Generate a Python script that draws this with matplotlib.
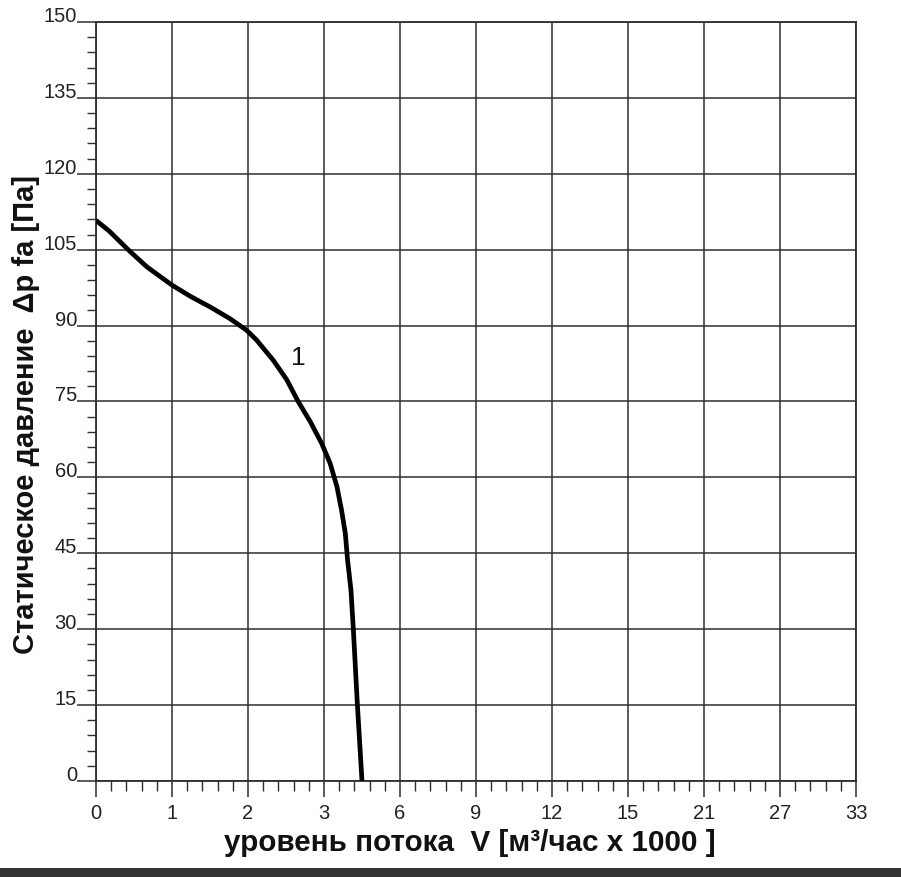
import numpy as np
import matplotlib
matplotlib.use("Agg")
import matplotlib.pyplot as plt
from matplotlib.patches import Rectangle

# ---- data ----
x_tick_values = [0, 1, 2, 3, 6, 9, 12, 15, 21, 27, 33]
x_tick_labels = ["0", "1", "2", "3", "6", "9", "12", "15", "21", "27", "33"]
y_ticks = [0, 15, 30, 45, 60, 75, 90, 105, 120, 135, 150]

# curve 1: flow (m3/h x 1000) vs static pressure (Pa)
flow = [0.0, 0.18, 0.43, 0.67, 1.0, 1.24, 1.50, 1.76, 1.98, 2.11,
        2.33, 2.51, 2.66, 2.82, 2.97, 3.24, 3.51, 3.69, 3.84, 3.93,
        4.065, 4.16, 4.32, 4.50]
pressure = [110.8, 108.6, 104.9, 101.6, 98.0, 95.8, 93.7, 91.4, 89.1, 87.2,
            83.2, 79.3, 75.0, 71.0, 66.7, 62.8, 58.2, 53.6, 49.0, 43.7,
            37.7, 29.8, 14.9, 0.0]
curve_label = "1"

xlabel = "уровень потока  V [м³/час x 1000 ]"
ylabel = "Статическое давление  Δp fa [Па]"

# ---- figure ----
W, H = 901, 877
PX = 72 / 100  # points per pixel
fig = plt.figure(figsize=(W / 100, H / 100), dpi=100)
plt.rcParams['font.family'] = ['Liberation Sans', 'DejaVu Sans']

ax = fig.add_axes([96 / W, 1 - 781 / H, (856 - 96) / W, (781 - 22) / H])

positions = np.arange(len(x_tick_values), dtype=float)
tv = np.array(x_tick_values, dtype=float)

def fwd(v):
    return np.interp(v, tv, positions)

def inv(p):
    return np.interp(p, positions, tv)

ax.set_xscale('function', functions=(fwd, inv))
ax.set_xlim(0, 33)
ax.set_ylim(0, 150)

ax.plot(flow, pressure, color='black', lw=3.4, solid_joinstyle='round',
        solid_capstyle='butt', zorder=3)
ax.text(2.66, 83.5, curve_label, fontsize=19, color='#111111', ha='center', va='center')

gc = '#2e2e2e'
ax.set_xticks(x_tick_values)
ax.set_xticklabels(x_tick_labels)
minor_pos = [p + k / 5 for p in positions[:-1] for k in range(1, 5)]
ax.set_xticks(inv(np.array(minor_pos)), minor=True)
ax.set_yticks(y_ticks)
ax.set_yticks([v for v in np.arange(0, 151, 3) if v % 15 != 0], minor=True)

ax.grid(True, which='major', color=gc, lw=1.1)
for s in ax.spines.values():
    s.set_color(gc)
    s.set_linewidth(1.3)

ax.tick_params(axis='x', which='major', direction='out', length=16 * PX, width=1.1,
               color=gc, labelsize=14.5, labelcolor='#222222', pad=7 * PX)
ax.tick_params(axis='x', which='minor', direction='out', length=10 * PX, width=1.0, color=gc)
ax.tick_params(axis='y', which='major', direction='out', length=19 * PX, width=1.1,
               color=gc, labelsize=14.5, labelcolor='#222222', pad=0)
ax.tick_params(axis='y', which='minor', direction='out', length=9 * PX, width=1.0, color=gc)
for lab in ax.get_yticklabels():
    lab.set_va('baseline')

fig.text(470 / W, 1 - 843 / H, xlabel, fontsize=21.3, fontweight='bold',
         color='#111111', ha='center', va='center')
fig.text(26 / W, 1 - 415 / H, ylabel, fontsize=21, fontweight='bold',
         color='#111111', ha='center', va='center', rotation=90)

fig.patches.append(Rectangle((0, 0), 1, 9 / H, transform=fig.transFigure,
                             facecolor='#333333', edgecolor='none'))

fig.savefig("out.png", dpi=100)
